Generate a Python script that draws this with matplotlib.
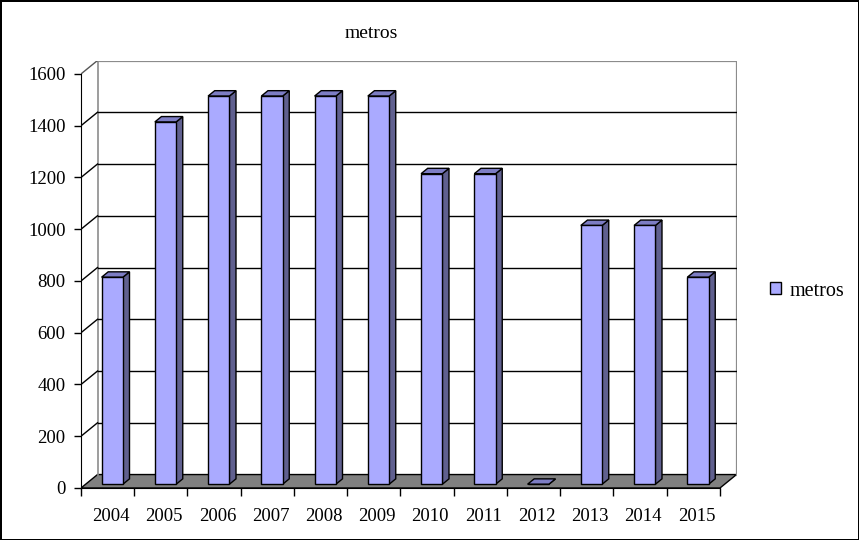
import matplotlib.pyplot as plt
from matplotlib.patches import Polygon, Rectangle, Patch

years = ["2004", "2005", "2006", "2007", "2008", "2009",
         "2010", "2011", "2012", "2013", "2014", "2015"]
metros = [800, 1400, 1500, 1500, 1500, 1500, 1200, 1200, 0, 1000, 1000, 800]
yticks = [0, 200, 400, 600, 800, 1000, 1200, 1400, 1600]

FRONT = "#aaaaff"
SIDE = "#60608f"
TOP = "#7d7dc4"
FLOOR = "#808080"
WALL_EDGE = "#8c8c8c"

# depth of the 3d box in data units (x in categories, y in metres)
DX = 0.31
DY = 52.0
# bar occupies this slice of the depth and this share of a category
D0, D1 = 0.28, 0.68
BAR_W = 0.40

plt.rcParams["font.family"] = ["Liberation Serif", "DejaVu Serif"]

fig = plt.figure(figsize=(8.59, 5.40), dpi=100)
fig.patch.set_edgecolor("black")
fig.patch.set_linewidth(1.0)

ax = fig.add_axes([81 / 859, 52 / 540, 655.5 / 859, 427.5 / 540])
ax.set_xlim(0, len(years) + DX)
ax.set_ylim(0, yticks[-1] + DY)
ax.patch.set_visible(False)

n = len(years)
ymax = yticks[-1]

# floor
ax.add_patch(Polygon([(0, 0), (n, 0), (n + DX, DY), (DX, DY)],
                     closed=True, facecolor=FLOOR, edgecolor="black",
                     linewidth=1, zorder=1))

# back wall outline
ax.plot([DX, DX], [DY, ymax + DY], color=WALL_EDGE, lw=1.2, zorder=2)
ax.plot([DX, n + DX], [ymax + DY, ymax + DY], color=WALL_EDGE, lw=1.6, zorder=2)
ax.plot([n + DX, n + DX], [DY, ymax + DY], color=WALL_EDGE, lw=1.6, zorder=2)

# gridlines on back wall and side wall
for v in yticks[1:]:
    c = "black" if v < ymax else "#555555"
    if v < ymax:
        ax.plot([DX, n + DX], [v + DY, v + DY], color="black", lw=1, zorder=2)
    ax.plot([0, DX], [v, v + DY], color=c, lw=1, zorder=2)

# bars
for i, v in enumerate(metros):
    x0 = i + 0.5 - BAR_W / 2 + D0 * DX
    y0 = D0 * DY
    x1 = x0 + BAR_W
    ddx = (D1 - D0) * DX
    ddy = (D1 - D0) * DY
    ax.add_patch(Polygon([(x1, y0), (x1 + ddx, y0 + ddy),
                          (x1 + ddx, y0 + ddy + v), (x1, y0 + v)],
                         closed=True, facecolor=SIDE, edgecolor="black",
                         linewidth=1, zorder=3))
    ax.add_patch(Polygon([(x0, y0 + v), (x1, y0 + v),
                          (x1 + ddx, y0 + v + ddy), (x0 + ddx, y0 + v + ddy)],
                         closed=True, facecolor=TOP, edgecolor="black",
                         linewidth=1, zorder=3))
    ax.add_patch(Rectangle((x0, y0), BAR_W, v, facecolor=FRONT,
                           edgecolor="black", linewidth=1, zorder=4))

# axes
for s in ("top", "right"):
    ax.spines[s].set_visible(False)
ax.spines["left"].set_bounds(0, ymax)
ax.spines["bottom"].set_bounds(0, n)
ax.spines["left"].set_zorder(5)
ax.spines["bottom"].set_zorder(5)

ax.set_yticks(yticks)
ax.set_yticklabels([str(v) for v in yticks])
ax.tick_params(axis="y", direction="out", length=5, width=1, pad=6,
               labelsize=13.5)
ax.set_xticks(range(n + 1))
ax.set_xticklabels([])
ax.tick_params(axis="x", which="major", direction="out", length=6, width=1)
ax.set_xticks([i + 0.56 for i in range(n)], minor=True)
ax.set_xticklabels(years, minor=True)
ax.tick_params(axis="x", which="minor", length=0, pad=14.5, labelsize=13.5)

fig.text(371.5 / 859, (540 - 38) / 540, "metros", ha="center",
         va="baseline", fontsize=14)

fig.legend(handles=[Patch(facecolor=FRONT, edgecolor="black", linewidth=1)],
           labels=["metros"], loc="center left",
           bbox_to_anchor=(764 / 859, (540 - 291) / 540), frameon=False,
           fontsize=14.5, handlelength=0.55, handleheight=0.55,
           handletextpad=0.4, borderaxespad=0, borderpad=0.3)

fig.savefig("out.png", dpi=100)
